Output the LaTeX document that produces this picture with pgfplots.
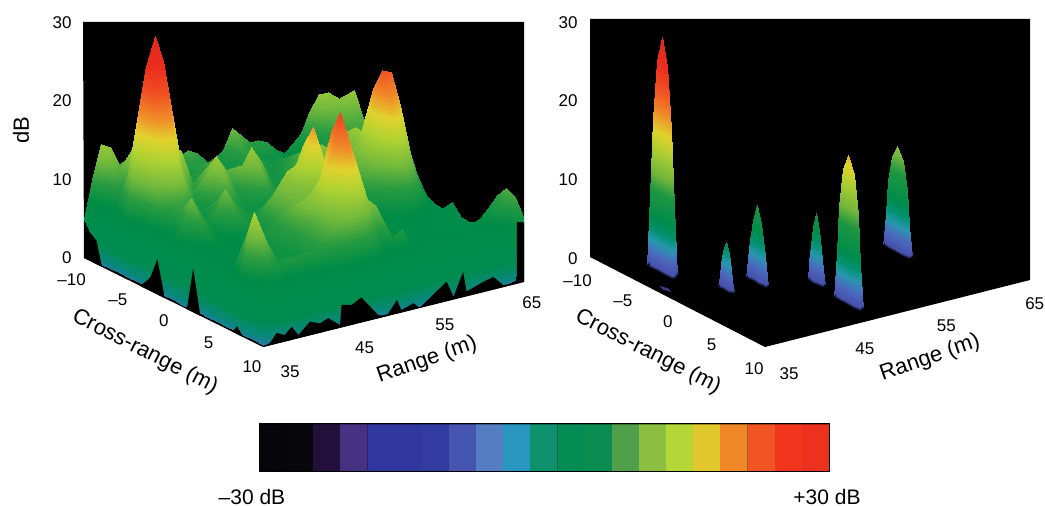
\documentclass[border=0pt]{standalone}
\usepackage{pgfplots}
\pgfplotsset{compat=1.18}
\usepackage{fontspec}
\setmainfont{Liberation Sans}
\pgfplotsset{
 colormap={radar}{
  rgb255(0)=(0,0,0)
  rgb255(4)=(70,80,170)
  rgb255(20)=(75,105,190)
  rgb255(35)=(40,150,175)
  rgb255(50)=(0,145,110)
  rgb255(65)=(0,140,75)
  rgb255(100)=(30,150,65)
  rgb255(120)=(110,180,60)
  rgb255(150)=(170,205,50)
  rgb255(175)=(225,210,45)
  rgb255(200)=(240,140,40)
  rgb255(230)=(240,80,35)
  rgb255(260)=(235,45,30)
  rgb255(300)=(230,40,30)
 },
 colormap={radarL}{
  rgb255(0)=(40,120,170)
  rgb255(8)=(10,135,125)
  rgb255(25)=(0,140,80)
  rgb255(70)=(0,140,70)
  rgb255(95)=(40,155,65)
  rgb255(120)=(115,185,60)
  rgb255(150)=(175,210,50)
  rgb255(175)=(225,210,45)
  rgb255(200)=(240,140,40)
  rgb255(230)=(240,80,35)
  rgb255(260)=(235,45,30)
  rgb255(300)=(230,40,30)
 },
 panel/.style={
  xmin=35,xmax=65,ymin=-10,ymax=10,zmin=0,zmax=30,
  point meta min=0,point meta max=30,
  clip=false,
  axis line style={draw=none},
  major tick length=0pt,
  xtick={35,45,55,65},xticklabels={\hspace{34pt}35,\hspace{12pt}45,55,65},
  ytick={-10,-5,0,5,10},yticklabels={–10\hspace{12pt},–5,0,5,10},
  ztick={0,10,20,30},zticklabels={0,10,20,30},
  tick label style={font=\fontsize{17}{17}\selectfont},
  xticklabel style={xshift=1pt,yshift=-10pt},
  yticklabel style={xshift=-2pt,yshift=-8pt},
  zticklabel style={xshift=-9pt,yshift=-1pt},
  grid=none,
 },
 sf/.style={surf,shader=interp,z buffer=reverse x seq},
}
\begin{document}
\begin{tikzpicture}
\useasboundingbox (0pt,0pt) rectangle (1045pt,506pt);
\fill[black] (83pt,484pt) -- (524pt,484pt) -- (524pt,224pt) -- (263pt,159pt) -- (84pt,248pt) -- cycle;
\fill[black] (590pt,487pt) -- (1030pt,487pt) -- (1030pt,226pt) -- (765pt,159pt) -- (590pt,249pt) -- cycle;

\begin{axis}[panel,colormap name=radarL,anchor=center,at={(304pt,353.5pt)},
 x={(8.7pt,2.17pt)},y={(8.95pt,-4.45pt)},z={(0pt,7.83pt)}]
\addplot3[sf,mesh/cols=31] coordinates {
(35,-10,5)(36,-10,10.3)(37,-10,14)(38,-10,13.3)(39,-10,10.8)(40,-10,11.4)(41,-10,10)(42,-10,10)(43,-10,10)(44,-10,10)(45,-10,10)(46,-10,10)(47,-10,10.5)(48,-10,9.8)(49,-10,8.3)(50,-10,8.6)(51,-10,9.3)(52,-10,11.9)(53,-10,10.7)(54,-10,9.6)(55,-10,9.5)(56,-10,9)(57,-10,7.8)(58,-10,7)(59,-10,8)(60,-10,9)(61,-10,11.7)(62,-10,13.4)(63,-10,13.5)(64,-10,12.1)(65,-10,12.5)
(35,-9,3)(36,-9,7)(37,-9,11)(38,-9,11)(39,-9,9)(40,-9,9)(41,-9,10)(42,-9,8)(43,-9,8)(44,-9,8)(45,-9,8)(46,-9,9)(47,-9,9)(48,-9,9)(49,-9,8)(50,-9,8)(51,-9,8)(52,-9,10)(53,-9,9)(54,-9,8)(55,-9,8)(56,-9,8)(57,-9,7)(58,-9,7)(59,-9,7)(60,-9,8)(61,-9,9)(62,-9,11)(63,-9,12)(64,-9,12.5)(65,-9,13.7)
(35,-8,.3)(36,-8,5)(37,-8,8)(38,-8,9)(39,-8,15)(40,-8,12)(41,-8,9)(42,-8,8)(43,-8,8)(44,-8,8)(45,-8,9)(46,-8,9)(47,-8,10)(48,-8,10)(49,-8,8)(50,-8,8)(51,-8,9)(52,-8,9)(53,-8,9)(54,-8,8)(55,-8,8)(56,-8,8)(57,-8,7)(58,-8,7)(59,-8,7)(60,-8,8)(61,-8,8)(62,-8,9)(63,-8,11)(64,-8,11)(65,-8,10.7)
(35,-7,.3)(36,-7,5)(37,-7,12)(38,-7,15)(39,-7,24)(40,-7,22)(41,-7,14)(42,-7,9)(43,-7,8)(44,-7,8)(45,-7,9)(46,-7,10)(47,-7,9)(48,-7,9)(49,-7,8)(50,-7,9)(51,-7,9)(52,-7,9)(53,-7,8)(54,-7,8)(55,-7,9)(56,-7,9)(57,-7,8)(58,-7,8)(59,-7,9)(60,-7,9)(61,-7,9)(62,-7,9)(63,-7,10)(64,-7,10)(65,-7,11.2)
(35,-6,.3)(36,-6,10)(37,-6,17)(38,-6,26)(39,-6,29.5)(40,-6,26)(41,-6,15)(42,-6,14)(43,-6,9)(44,-6,8)(45,-6,9)(46,-6,11)(47,-6,10)(48,-6,8)(49,-6,8)(50,-6,9)(51,-6,8)(52,-6,8)(53,-6,8)(54,-6,9)(55,-6,10)(56,-6,10)(57,-6,9)(58,-6,9)(59,-6,10)(60,-6,10)(61,-6,10)(62,-6,10)(63,-6,11)(64,-6,11)(65,-6,12)
(35,-5,.3)(36,-5,6)(37,-5,15)(38,-5,24)(39,-5,26)(40,-5,16)(41,-5,13)(42,-5,9)(43,-5,8)(44,-5,12)(45,-5,12)(46,-5,11)(47,-5,9)(48,-5,11)(49,-5,8)(50,-5,8)(51,-5,8)(52,-5,8)(53,-5,9)(54,-5,10)(55,-5,11)(56,-5,11)(57,-5,10)(58,-5,10)(59,-5,13)(60,-5,12)(61,-5,10)(62,-5,10)(63,-5,11)(64,-5,11)(65,-5,12)
(35,-4,.3)(36,-4,5)(37,-4,12)(38,-4,16)(39,-4,18)(40,-4,13)(41,-4,9)(42,-4,8)(43,-4,12)(44,-4,14)(45,-4,12)(46,-4,9)(47,-4,12)(48,-4,14)(49,-4,12)(50,-4,8)(51,-4,8)(52,-4,9)(53,-4,10)(54,-4,11)(55,-4,12)(56,-4,12)(57,-4,11)(58,-4,11)(59,-4,13)(60,-4,12)(61,-4,10)(62,-4,9)(63,-4,9)(64,-4,9)(65,-4,9)
(35,-3,.3)(36,-3,5)(37,-3,8)(38,-3,10)(39,-3,11)(40,-3,9)(41,-3,8)(42,-3,8)(43,-3,9)(44,-3,12)(45,-3,9)(46,-3,8)(47,-3,9)(48,-3,12)(49,-3,9)(50,-3,8)(51,-3,9)(52,-3,10)(53,-3,11)(54,-3,12)(55,-3,13)(56,-3,12)(57,-3,11)(58,-3,12)(59,-3,14)(60,-3,13)(61,-3,11)(62,-3,10)(63,-3,9)(64,-3,9)(65,-3,10)
(35,-2,.3)(36,-2,5)(37,-2,7)(38,-2,10)(39,-2,8)(40,-2,7)(41,-2,7)(42,-2,10)(43,-2,8)(44,-2,8)(45,-2,8)(46,-2,8)(47,-2,8)(48,-2,8)(49,-2,8)(50,-2,9)(51,-2,10)(52,-2,11)(53,-2,12)(54,-2,12)(55,-2,12)(56,-2,12)(57,-2,12)(58,-2,12)(59,-2,14)(60,-2,13)(61,-2,11)(62,-2,9)(63,-2,8)(64,-2,7)(65,-2,6.8)
(35,-1,.3)(36,-1,6)(37,-1,9)(38,-1,12)(39,-1,10)(40,-1,7)(41,-1,10)(42,-1,12)(43,-1,10)(44,-1,8)(45,-1,8)(46,-1,8)(47,-1,8)(48,-1,9)(49,-1,9)(50,-1,10)(51,-1,11)(52,-1,11)(53,-1,11)(54,-1,11)(55,-1,11)(56,-1,11)(57,-1,12)(58,-1,14)(59,-1,20)(60,-1,19)(61,-1,13)(62,-1,9)(63,-1,7)(64,-1,6)(65,-1,4.9)
(35,0,.3)(36,0,5)(37,0,7)(38,0,10)(39,0,8)(40,0,7)(41,0,8)(42,0,10)(43,0,8)(44,0,8)(45,0,9)(46,0,10)(47,0,10)(48,0,11)(49,0,12)(50,0,12)(51,0,11)(52,0,10)(53,0,10)(54,0,10)(55,0,10)(56,0,11)(57,0,12)(58,0,15)(59,0,23)(60,0,22.5)(61,0,18)(62,0,12)(63,0,8)(64,0,5)(65,0,3)
(35,1,.3)(36,1,5)(37,1,6)(38,1,7)(39,1,7)(40,1,7)(41,1,7)(42,1,7)(43,1,8)(44,1,9)(45,1,11)(46,1,12)(47,1,14)(48,1,13)(49,1,17)(50,1,13)(51,1,11)(52,1,10)(53,1,9)(54,1,9)(55,1,9)(56,1,10)(57,1,11)(58,1,14)(59,1,20)(60,1,18)(61,1,12)(62,1,8)(63,1,6)(64,1,4)(65,1,3.7)
(35,2,.3)(36,2,5)(37,2,6)(38,2,6)(39,2,7)(40,2,7)(41,2,7)(42,2,8)(43,2,8)(44,2,9)(45,2,11)(46,2,12)(47,2,13)(48,2,16)(49,2,19.7)(50,2,16)(51,2,11)(52,2,9)(53,2,8)(54,2,8)(55,2,8)(56,2,8)(57,2,9)(58,2,11)(59,2,13)(60,2,12)(61,2,9)(62,2,7)(63,2,6)(64,2,5)(65,2,5.6)
(35,3,.3)(36,3,5)(37,3,6)(38,3,6)(39,3,7)(40,3,7)(41,3,8)(42,3,8)(43,3,9)(44,3,10)(45,3,11)(46,3,12)(47,3,12)(48,3,13)(49,3,16)(50,3,13)(51,3,10)(52,3,8)(53,3,8)(54,3,7)(55,3,7)(56,3,7)(57,3,8)(58,3,8)(59,3,9)(60,3,8)(61,3,7)(62,3,6)(63,3,5)(64,3,5)(65,3,4.3)
(35,4,.3)(36,4,5)(37,4,6)(38,4,6)(39,4,7)(40,4,7)(41,4,8)(42,4,8)(43,4,9)(44,4,10)(45,4,12)(46,4,12)(47,4,12)(48,4,13)(49,4,14)(50,4,12)(51,4,10)(52,4,8)(53,4,7)(54,4,7)(55,4,7)(56,4,6)(57,4,6)(58,4,7)(59,4,7)(60,4,6)(61,4,6)(62,4,5)(63,4,5)(64,4,4)(65,4,4.3)
(35,5,.3)(36,5,5)(37,5,7)(38,5,7)(39,5,7)(40,5,8)(41,5,8)(42,5,8)(43,5,9)(44,5,10)(45,5,12)(46,5,14)(47,5,16)(48,5,21)(49,5,18)(50,5,14)(51,5,11)(52,5,8)(53,5,7)(54,5,7)(55,5,6)(56,5,6)(57,5,6)(58,5,6)(59,5,6)(60,5,6)(61,5,5)(62,5,5)(63,5,5)(64,5,5)(65,5,4.8)
(35,6,.3)(36,6,6)(37,6,11)(38,6,11)(39,6,8)(40,6,8)(41,6,8)(42,6,8)(43,6,9)(44,6,10)(45,6,11)(46,6,14)(47,6,20)(48,6,24.1)(49,6,19)(50,6,13)(51,6,12)(52,6,8)(53,6,7)(54,6,6)(55,6,6)(56,6,6)(57,6,6)(58,6,6)(59,6,6)(60,6,5)(61,6,5)(62,6,5)(63,6,5)(64,6,5)(65,6,5.6)
(35,7,.3)(36,7,10)(37,7,15)(38,7,12)(39,7,8)(40,7,8)(41,7,8)(42,7,8)(43,7,9)(44,7,10)(45,7,11)(46,7,13)(47,7,15)(48,7,20)(49,7,17)(50,7,13)(51,7,12)(52,7,7)(53,7,7)(54,7,6)(55,7,6)(56,7,6)(57,7,6)(58,7,6)(59,7,6)(60,7,6)(61,7,6)(62,7,6)(63,7,7)(64,7,8)(65,7,9.4)
(35,8,.3)(36,8,5)(37,8,11)(38,8,10)(39,8,8)(40,8,9)(41,8,9)(42,8,9)(43,8,9)(44,8,10)(45,8,11)(46,8,12)(47,8,12.5)(48,8,12)(49,8,11)(50,8,9)(51,8,7)(52,8,8)(53,8,9)(54,8,7)(55,8,6)(56,8,6)(57,8,5)(58,8,6)(59,8,6)(60,8,6)(61,8,6)(62,8,6)(63,8,7)(64,8,9)(65,8,10.8)
(35,9,.3)(36,9,3)(37,9,4)(38,9,5)(39,9,6)(40,9,6)(41,9,6)(42,9,6)(43,9,7)(44,9,7)(45,9,7)(46,9,7)(47,9,7)(48,9,7)(49,9,7)(50,9,6)(51,9,5)(52,9,5)(53,9,5)(54,9,5)(55,9,5)(56,9,5)(57,9,5)(58,9,5)(59,9,5)(60,9,5)(61,9,5)(62,9,5)(63,9,6)(64,9,7)(65,9,10.3)
(35,10,.2)(36,10,.3)(37,10,.3)(38,10,.3)(39,10,.3)(40,10,.3)(41,10,.3)(42,10,.3)(43,10,.3)(44,10,.3)(45,10,.3)(46,10,.3)(47,10,.3)(48,10,.3)(49,10,.3)(50,10,.3)(51,10,.3)(52,10,.3)(53,10,.3)(54,10,.3)(55,10,.3)(56,10,.3)(57,10,.3)(58,10,.3)(59,10,.3)(60,10,.3)(61,10,.3)(62,10,.3)(63,10,.3)(64,10,.5)(65,10,8)
};
\addplot3[fill=black,draw=none] coordinates {(35,-10,0)(35,-10,4.2)(35,-8.6,3)(35,-8,0)};
\addplot3[fill=black,draw=none] coordinates {(35,-3.7,0)(35,-2.6,1.7)(35,-1.8,4.5)(35,-1.2,1.3)(35,-1,0)};
\addplot3[fill=black,draw=none] coordinates {(35,1.5,0)(35,2.2,5.6)(35,3,0)};
\addplot3[fill=black,draw=none] coordinates {(35,6.6,0)(35,7.1,1)(35,7.8,0)};
\addplot3[fill=black,draw=none] coordinates {(35,10,0)(35.8,10,.3)(36.57,10,1.35)(37.5,10,.85)(38.3,10,1.67)(39.06,10,.4)(40.4,10,1.74)(41.55,10,1.2)(42.5,10,1.6)(43.85,10,.36)(44.04,10,2.86)(45.2,10,2.54)(46.3,10,3.2)(48.25,10,.4)(49.2,10,0)(50.4,10,1.74)(50.9,10,.3)(52.3,10,.8)(53,10,0)(56.1,10,2.5)(56.9,10,.36)(58,10,3.2)(58.4,10,.6)(60.3,10,1.3)(61.5,10,1.6)(62.6,10,.26)(65,10,0)};
\addplot3[fill=black,draw=none] coordinates {(65,9.2,0)(65,9.2,7.2)(65,10,7.6)(65,10,0)};
\end{axis}

\begin{axis}[panel,colormap name=radar,anchor=center,at={(810pt,353.5pt)},
 xticklabel style={xshift=-3pt},
 x={(8.83pt,2.23pt)},y={(8.75pt,-4.5pt)},z={(0pt,7.87pt)}]
\addplot3[fill={rgb,255:red,70;green,50;blue,130},draw=none] coordinates {(36.3,-3.4,0)(36.6,-2.7,0)(36.3,-2,0)(36,-2.7,0)};
\addplot3[sf,mesh/cols=9] coordinates {
(59.8,-1.1,0)(59.8,-.95,0)(59.8,-.65,0)(59.8,-.2,0)(59.8,.4,0)(59.8,1,0)(59.8,1.45,0)(59.8,1.75,0)(59.8,1.9,0)
(59.5,-1.1,0)(59.5,-.95,4)(59.5,-.65,8.4)(59.5,-.2,11.8)(59.5,.4,13.3)(59.5,1,11.8)(59.5,1.45,8.4)(59.5,1.75,4)(59.5,1.9,0)
(59.2,-1.1,0)(59.2,-.95,0)(59.2,-.65,0)(59.2,-.2,0)(59.2,.4,0)(59.2,1,0)(59.2,1.45,0)(59.2,1.75,0)(59.2,1.9,0)
};
\addplot3[sf,mesh/cols=9] coordinates {
(48.8,1.25,0)(48.8,1.34,0)(48.8,1.5,0)(48.8,1.76,0)(48.8,2.1,0)(48.8,2.44,0)(48.8,2.7,0)(48.8,2.87,0)(48.8,2.95,0)
(48.6,1.25,0)(48.6,1.34,2.2)(48.6,1.5,4.5)(48.6,1.76,6.9)(48.6,2.1,8.9)(48.6,2.44,6.9)(48.6,2.7,4.5)(48.6,2.87,2.2)(48.6,2.95,0)
(48.4,1.25,0)(48.4,1.34,0)(48.4,1.5,0)(48.4,1.76,0)(48.4,2.1,0)(48.4,2.44,0)(48.4,2.7,0)(48.4,2.87,0)(48.4,2.95,0)
};
\addplot3[sf,mesh/cols=9] coordinates {
(48.4,4.8,0)(48.4,4.95,0)(48.4,5.25,0)(48.4,5.7,0)(48.4,6.3,0)(48.4,6.9,0)(48.4,7.35,0)(48.4,7.65,0)(48.4,7.8,0)
(48.1,4.8,0)(48.1,4.95,5.6)(48.1,5.25,11.8)(48.1,5.7,16.7)(48.1,6.3,18.8)(48.1,6.9,16.7)(48.1,7.35,11.8)(48.1,7.65,5.6)(48.1,7.8,0)
(47.8,4.8,0)(47.8,4.95,0)(47.8,5.25,0)(47.8,5.7,0)(47.8,6.3,0)(47.8,6.9,0)(47.8,7.35,0)(47.8,7.65,0)(47.8,7.8,0)
};
\addplot3[sf,mesh/cols=9] coordinates {
(44.55,-1.45,0)(44.55,-1.34,0)(44.55,-1.1,0)(44.55,-.76,0)(44.55,-.3,0)(44.55,.16,0)(44.55,.5,0)(44.55,.74,0)(44.55,.85,0)
(44.3,-1.45,0)(44.3,-1.34,2.5)(44.3,-1.1,4.9)(44.3,-.76,7.6)(44.3,-.3,9.8)(44.3,.16,7.6)(44.3,.5,4.9)(44.3,.74,2.5)(44.3,.85,0)
(44.05,-1.45,0)(44.05,-1.34,0)(44.05,-1.1,0)(44.05,-.76,0)(44.05,-.3,0)(44.05,.16,0)(44.05,.5,0)(44.05,.74,0)(44.05,.85,0)
};
\addplot3[sf,mesh/cols=9] coordinates {
(41,-1.1,0)(41,-1.02,0)(41,-.86,0)(41,-.62,0)(41,-.3,0)(41,.02,0)(41,.26,0)(41,.42,0)(41,.5,0)
(40.8,-1.1,0)(40.8,-1.02,1.5)(40.8,-.86,3)(40.8,-.62,4.7)(40.8,-.3,6.1)(40.8,.02,4.7)(40.8,.26,3)(40.8,.42,1.5)(40.8,.5,0)
(40.6,-1.1,0)(40.6,-1.02,0)(40.6,-.86,0)(40.6,-.62,0)(40.6,-.3,0)(40.6,.02,0)(40.6,.26,0)(40.6,.42,0)(40.6,.5,0)
};
\addplot3[sf,mesh/cols=9] coordinates {
(39.1,-7,0)(39.1,-6.85,0)(39.1,-6.55,0)(39.1,-6.1,0)(39.1,-5.5,0)(39.1,-4.9,0)(39.1,-4.45,0)(39.1,-4.15,0)(39.1,-4,0)
(38.7,-7,0)(38.7,-6.85,8.9)(38.7,-6.55,18.7)(38.7,-6.1,26.4)(38.7,-5.5,29.7)(38.7,-4.9,26.4)(38.7,-4.45,18.7)(38.7,-4.15,8.9)(38.7,-4,0)
(38.3,-7,0)(38.3,-6.85,0)(38.3,-6.55,0)(38.3,-6.1,0)(38.3,-5.5,0)(38.3,-4.9,0)(38.3,-4.45,0)(38.3,-4.15,0)(38.3,-4,0)
};
\end{axis}

\begin{axis}[at={(544pt,58pt)},anchor=center,width=570pt,height=48pt,scale only axis,
 xmin=-30,xmax=30,ymin=0,ymax=1,ytick=\empty,xtick={-30,30},
 xticklabels={–30 dB,\hspace{10pt}+30 dB},major tick length=0pt,
 xticklabel style={font=\fontsize{21}{21}\selectfont,xshift=-7pt,yshift=-14pt},
 axis on top,axis line style={line width=1pt}]
\def\cb#1#2#3{\addplot[fill=#3,draw=black,draw opacity=.3,line width=.5pt] coordinates {(#1,0)(#2,0)(#2,1)(#1,1)};}
\definecolor{c1}{RGB}{5,5,10}\definecolor{c2}{RGB}{8,8,12}\definecolor{c3}{RGB}{35,15,60}
\definecolor{c4}{RGB}{70,50,130}\definecolor{c5}{RGB}{50,55,160}\definecolor{c6}{RGB}{50,55,160}
\definecolor{c7}{RGB}{50,60,160}\definecolor{c8}{RGB}{70,85,175}\definecolor{c9}{RGB}{85,125,195}
\definecolor{c10}{RGB}{40,150,190}\definecolor{c11}{RGB}{15,145,110}\definecolor{c12}{RGB}{5,140,85}
\definecolor{c13}{RGB}{10,140,80}\definecolor{c14}{RGB}{80,160,75}\definecolor{c15}{RGB}{140,190,65}
\definecolor{c16}{RGB}{180,215,55}\definecolor{c17}{RGB}{225,200,45}\definecolor{c18}{RGB}{240,135,40}
\definecolor{c19}{RGB}{240,85,35}\definecolor{c20}{RGB}{240,55,30}\definecolor{c21}{RGB}{235,50,30}
\cb{-30}{-27.14}{c1}\cb{-27.14}{-24.29}{c2}\cb{-24.29}{-21.43}{c3}\cb{-21.43}{-18.57}{c4}
\cb{-18.57}{-15.71}{c5}\cb{-15.71}{-12.86}{c6}\cb{-12.86}{-10}{c7}\cb{-10}{-7.14}{c8}
\cb{-7.14}{-4.29}{c9}\cb{-4.29}{-1.43}{c10}\cb{-1.43}{1.43}{c11}\cb{1.43}{4.29}{c12}
\cb{4.29}{7.14}{c13}\cb{7.14}{10}{c14}\cb{10}{12.86}{c15}\cb{12.86}{15.71}{c16}
\cb{15.71}{18.57}{c17}\cb{18.57}{21.43}{c18}\cb{21.43}{24.29}{c19}\cb{24.29}{27.14}{c20}\cb{27.14}{30}{c21}
\end{axis}

\node[rotate=90,font=\fontsize{22}{22}\selectfont] at (21pt,376pt) {dB};
\node[rotate=-27,font=\fontsize{22}{22}\selectfont] at (145pt,154pt) {Cross-range (m)};
\node[rotate=19,font=\fontsize{22}{22}\selectfont] at (427pt,146pt) {Range (m)};
\node[rotate=-27,font=\fontsize{22}{22}\selectfont] at (648pt,154pt) {Cross-range (m)};
\node[rotate=19,font=\fontsize{22}{22}\selectfont] at (930pt,148pt) {Range (m)};
\end{tikzpicture}
\end{document}
